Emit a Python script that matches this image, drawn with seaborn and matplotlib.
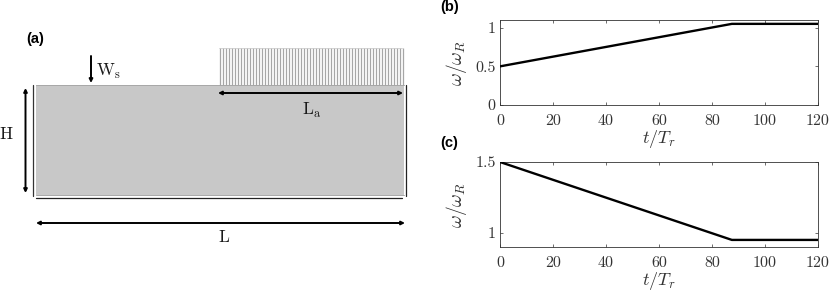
import numpy as np
import pandas as pd
import matplotlib
matplotlib.use("Agg")
import matplotlib.pyplot as plt
import seaborn as sns

sns.set_theme(style="white")
plt.rcParams['mathtext.fontset'] = 'cm'
plt.rcParams['font.family'] = ['DejaVu Sans']

# Panels (b) and (c): breakpoints
t_b = [0, 87.5, 120]
w_b = [0.5, 1.05, 1.05]
t_c = [0, 87.5, 120]
w_c = [1.5, 0.95, 0.95]
x_ticks = [0, 20, 40, 60, 80, 100, 120]
x_labels = ['0', '20', '40', '60', '80', '100', '120']
b_ticks = [0, 0.5, 1]
b_labels = ['0', '0.5', '1']
c_ticks = [1, 1.5]
c_labels = ['1', '1.5']

# Panel (a): schematic, in picture units
domain_x = [35.5, 404]
domain_top, domain_bottom = 85, 195
hatch_x = np.arange(219.5, 403, 3.0)
hatch_top = 48

W, H = 830, 292
fig = plt.figure(figsize=(W / 100, H / 100), dpi=100, facecolor='white')

def axes_px(left, top, right, bottom):
    return fig.add_axes([left / W, 1 - bottom / H, (right - left) / W, (bottom - top) / H])

# ---------- panel (a)
a = fig.add_axes([0, 0, 1, 1])
a.set_xlim(0, W)
a.set_ylim(H, 0)
a.axis('off')
a.fill_between(domain_x, domain_top, domain_bottom, color='#c8c8c8', lw=0)
a.plot(domain_x, [domain_top] * 2, color='#a8a8a8', lw=0.7)
a.plot(domain_x, [domain_bottom] * 2, color='#a8a8a8', lw=0.7)
a.vlines(hatch_x, hatch_top, domain_top, color='#a6a6a6', lw=0.9)
a.plot([219, 402], [hatch_top] * 2, color='#c4c4c4', lw=0.5)
# walls
a.plot([33, 33], [85, 196], color='#333333', lw=0.9)
a.plot([405.5, 405.5], [85, 196], color='#222222', lw=0.9)
a.plot([35.5, 402], [198, 198], color='#222222', lw=0.9)

def arrow(x0, y0, x1, y1, style):
    a.annotate('', xy=(x1, y1), xytext=(x0, y0),
               arrowprops=dict(arrowstyle=style, color='black', lw=1.4,
                               mutation_scale=5, shrinkA=0, shrinkB=0))

arrow(91, 56, 91, 83, '-|>')
arrow(25.5, 88, 25.5, 193, '<|-|>')
arrow(218, 93, 403, 93, '<|-|>')
arrow(36, 223, 405, 223, '<|-|>')
serif = dict(color='#1a1a1a', fontsize=12.5, ha='center', va='center')
a.text(108, 71, r'$\mathrm{W_s}$', **serif)
a.text(6.5, 134, r'$\mathrm{H}$', **serif)
a.text(312, 110, r'$\mathrm{L_a}$', **serif)
a.text(224, 237, r'$\mathrm{L}$', **serif)
bold = dict(family='Liberation Sans', fontweight='bold', fontsize=10.5, color='black', ha='left', va='center')
a.text(26, 39.5, '(a)', **bold)
a.text(440, 7, '(b)', **bold)
a.text(440, 143, '(c)', **bold)

# ---------- panels (b), (c)
def panel(box, t, w, ylim, yt, yl):
    ax = axes_px(*box)
    df = pd.DataFrame({'t': t, 'w': w})
    sns.lineplot(data=df, x='t', y='w', color='black', lw=1.7, ax=ax, errorbar=None, zorder=5)
    ax.set_xlim(0, 120)
    ax.set_ylim(*ylim)
    ax.set_xticks(x_ticks)
    ax.set_xticklabels(x_labels, family='cmr10', fontsize=11.5, color='#333333')
    ax.set_yticks(yt)
    ax.set_yticklabels(yl, family='cmr10', fontsize=11.5, color='#333333')
    ax.tick_params(axis='x', direction='in', length=2.5, width=0.5, color='#333333',
                   top=True, bottom=True, pad=7)
    ax.tick_params(axis='y', direction='in', length=2.5, width=0.5, color='#333333',
                   left=True, right=True, pad=3)
    for s in ax.spines.values():
        s.set_linewidth(0.6)
        s.set_color('#333333')
    ax.set_xlabel(r'$t/T_r$', fontsize=13, color='#333333', labelpad=-0.5)
    ax.set_ylabel(r'$\omega/\omega_R$', fontsize=14, color='#333333', labelpad=1)
    ax.yaxis.set_label_coords((469 - box[0]) / (box[2] - box[0]), 0.5)
    return ax

panel((500, 20, 818, 105), t_b, w_b, (0, 1.1), b_ticks, b_labels)
panel((500, 162, 818, 247), t_c, w_c, (0.9, 1.5), c_ticks, c_labels)

fig.savefig('out.png', dpi=100, facecolor='white')
